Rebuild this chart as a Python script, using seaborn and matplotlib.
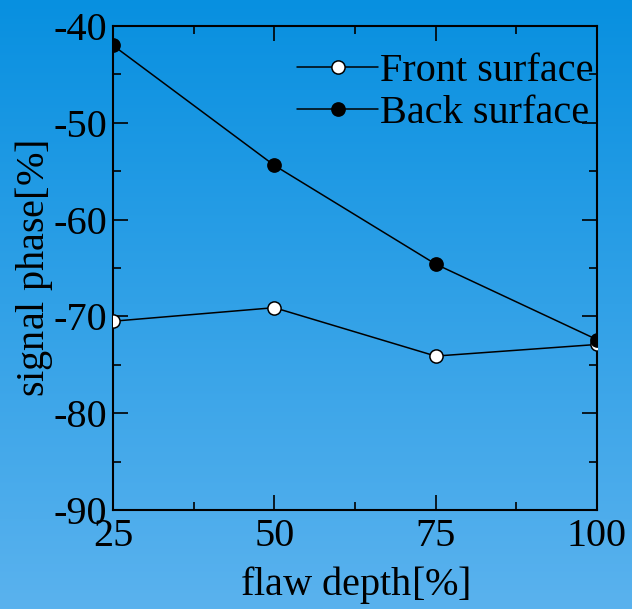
import numpy as np
import matplotlib
matplotlib.use("Agg")
import matplotlib.pyplot as plt
from matplotlib.ticker import MultipleLocator
import seaborn as sns
import pandas as pd

# flaw depth [%] and measured signal phase [%]
depth = [25, 50, 75, 100]
front_phase = [-70.5, -69.1, -74.1, -72.9]
back_phase = [-42.0, -54.4, -64.6, -72.4]
series_names = ["Front surface", "Back surface"]
x_ticks = [25, 50, 75, 100]
y_ticks = [-90, -80, -70, -60, -50, -40]

sns.set_theme(style="ticks")
plt.rcParams["font.family"] = ["Liberation Serif", "DejaVu Serif"]
plt.rcParams["axes.unicode_minus"] = False
plt.rcParams["mathtext.fontset"] = "custom"
plt.rcParams["mathtext.rm"] = "Liberation Serif"
plt.rcParams["mathtext.it"] = "Liberation Serif:style=italic"

fig = plt.figure(figsize=(6.32, 6.09), dpi=100)

# vertical blue gradient backdrop
bg = fig.add_axes([0, 0, 1, 1], zorder=-10)
top = np.array([8, 144, 224]) / 255
bottom = np.array([90, 178, 238]) / 255
t = np.linspace(0, 1, 256)[:, None]
grad = top[None, :] * (1 - t) + bottom[None, :] * t
bg.imshow(grad[:, None, :], aspect="auto", extent=[0, 1, 0, 1])
bg.set_axis_off()

ax = fig.add_axes([0.1788, 0.1626, 0.9446 - 0.1788, 0.9573 - 0.1626])
ax.set_facecolor("none")

df = pd.DataFrame({
    "depth": depth * 2,
    "phase": front_phase + back_phase,
    "series": [series_names[0]] * 4 + [series_names[1]] * 4,
})

sns.lineplot(data=df[df.series == series_names[0]], x="depth", y="phase",
             color="black", lw=1.1, marker="o", markersize=9.5,
             markerfacecolor="white", markeredgecolor="black", markeredgewidth=1.1,
             label=series_names[0], ax=ax, zorder=3)
sns.lineplot(data=df[df.series == series_names[1]], x="depth", y="phase",
             color="black", lw=1.1, marker="o", markersize=9.5,
             markerfacecolor="black", markeredgecolor="black", markeredgewidth=1.1,
             label=series_names[1], ax=ax, zorder=4)

ax.set_xlim(25, 100)
ax.set_ylim(-90, -40)
ax.set_xticks(x_ticks)
ax.set_yticks(y_ticks)
ax.xaxis.set_minor_locator(MultipleLocator(12.5))
ax.yaxis.set_minor_locator(MultipleLocator(5))

for s in ax.spines.values():
    s.set_visible(True)
    s.set_linewidth(1.5)
    s.set_color("black")

ax.tick_params(which="both", direction="in", top=True, right=True,
               color="black", width=1.2, labelsize=29, labelcolor="black")
ax.tick_params(which="major", length=11, pad=4)
ax.tick_params(which="minor", length=5.5)
ax.tick_params(axis="x", which="major", pad=6)

ax.set_xlabel(r"flaw depth[$\mathit{\%}$]", fontsize=29, color="black")
ax.set_ylabel(r"signal phase[$\mathit{\%}$]", fontsize=29, color="black")
ax.xaxis.set_label_coords(0.5, -0.112)
ax.yaxis.set_label_coords(-0.12, 0.5)

leg = ax.legend(loc="upper right", bbox_to_anchor=(1.027, 0.977), frameon=False,
                fontsize=29, handlelength=2.03, handletextpad=0.05,
                labelspacing=0.11, borderaxespad=0.1, borderpad=0.3)
for txt in leg.get_texts():
    txt.set_color("black")

fig.savefig("out.png", dpi=100)
